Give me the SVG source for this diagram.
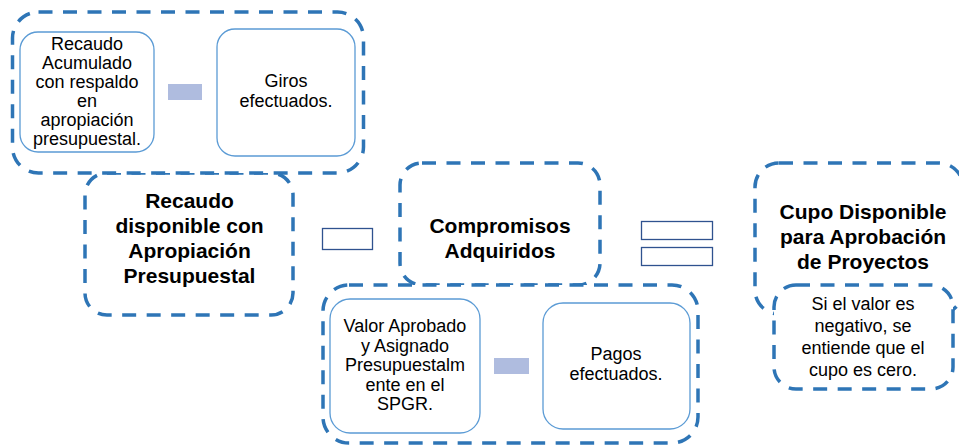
<svg xmlns="http://www.w3.org/2000/svg" width="959" height="446" viewBox="0 0 959 446">
<style>
.dash{fill:#fff;stroke:#2e75b6;stroke-width:3.5;stroke-dasharray:14 10.5}
.inner{fill:#fff;stroke:#5b9bd5;stroke-width:1.3}
.minus{fill:#afbcdf;stroke:none}
.op{fill:#fff;stroke:#2f528f;stroke-width:1.3}
.t{font-family:"Liberation Sans",Arial,sans-serif;font-size:18px;fill:#000;text-anchor:middle}
.b{font-family:"Liberation Sans",Arial,sans-serif;font-size:21px;font-weight:bold;fill:#000;text-anchor:middle}
</style>
<rect width="959" height="446" fill="#fff"/>

<g id="recaudo-disponible">
<rect class="dash" x="85" y="173" width="208" height="142" rx="22"/>
<text class="b" x="189.5" y="208">Recaudo</text>
<text class="b" x="189.5" y="233">disponible con</text>
<text class="b" x="189.5" y="258">Apropiación</text>
<text class="b" x="189.5" y="283">Presupuestal</text>
</g>

<g id="grupo-recaudo">
<rect class="dash" x="12.5" y="12" width="351" height="161" rx="26"/>
</g>

<g id="recaudo-acumulado">
<rect class="inner" x="20" y="32" width="134" height="120" rx="18"/>
<text class="t" x="87" y="50">Recaudo</text>
<text class="t" x="87" y="69">Acumulado</text>
<text class="t" x="87" y="88">con respaldo</text>
<text class="t" x="87" y="107">en</text>
<text class="t" x="87" y="126">apropiación</text>
<text class="t" x="87" y="145">presupuestal.</text>
</g>

<g id="giros">
<rect class="inner" x="217" y="29" width="138" height="127" rx="18"/>
<text class="t" x="286" y="87">Giros</text>
<text class="t" x="286" y="107">efectuados.</text>
</g>

<g id="compromisos">
<rect class="dash" x="400" y="163" width="200" height="122" rx="22"/>
<text class="b" x="500" y="233">Compromisos</text>
<text class="b" x="500" y="258">Adquiridos</text>
</g>

<g id="grupo-compromisos">
<rect class="dash" x="323" y="285" width="375" height="158" rx="26"/>
</g>

<g id="valor-aprobado">
<rect class="inner" x="330" y="299" width="150" height="134" rx="20"/>
<text class="t" x="405" y="332">Valor Aprobado</text>
<text class="t" x="405" y="352">y Asignado</text>
<text class="t" x="405" y="371">Presupuestalm</text>
<text class="t" x="405" y="391">ente en el</text>
<text class="t" x="405" y="410">SPGR.</text>
</g>

<g id="pagos">
<rect class="inner" x="543" y="303" width="147" height="126" rx="20"/>
<text class="t" x="616" y="360">Pagos</text>
<text class="t" x="616" y="380">efectuados.</text>
</g>

<g id="cupo">
<rect class="dash" x="755" y="163" width="208" height="151" rx="24"/>
<text class="b" x="863" y="219">Cupo Disponible</text>
<text class="b" x="863" y="244">para Aprobación</text>
<text class="b" x="863" y="269">de Proyectos</text>
</g>

<g id="nota-cupo">
<rect class="dash" x="774" y="285" width="179" height="104" rx="22"/>
<text class="t" x="863" y="310">Si el valor es</text>
<text class="t" x="863" y="332">negativo, se</text>
<text class="t" x="863" y="354">entiende que el</text>
<text class="t" x="863" y="376">cupo es cero.</text>
</g>

<g id="operadores">
<rect class="minus" x="168" y="84" width="34" height="16"/>
<rect class="minus" x="494" y="358" width="35" height="16"/>
<rect class="op" x="322.5" y="228.5" width="50" height="21"/>
<rect class="op" x="641.5" y="221.5" width="71" height="18"/>
<rect class="op" x="641.5" y="247.5" width="71" height="18"/>
</g>
</svg>
